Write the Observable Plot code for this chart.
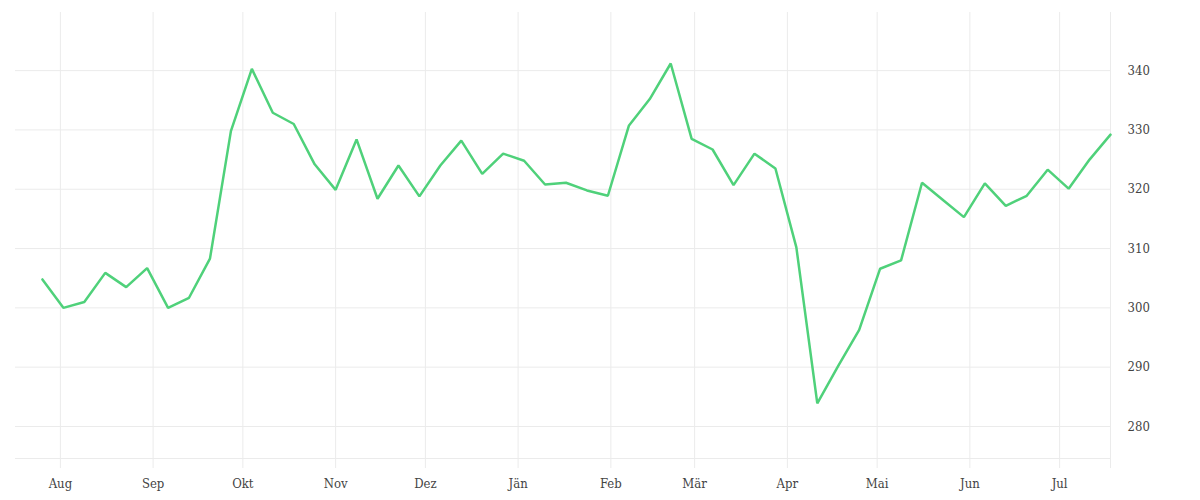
<!DOCTYPE html>
<html><head><meta charset="utf-8">
<script src="https://cdn.jsdelivr.net/npm/d3@7"></script>
<script src="https://cdn.jsdelivr.net/npm/@observablehq/plot@0.6"></script>
<style>body{margin:0;background:#fff;} #chart svg{display:block;}</style>
</head><body><div id="chart"></div>
<script>
const dates = [
  "2022-07-26","2022-08-02","2022-08-09","2022-08-16","2022-08-23","2022-08-30",
  "2022-09-06","2022-09-13","2022-09-20","2022-09-27","2022-10-04","2022-10-11",
  "2022-10-18","2022-10-25","2022-11-01","2022-11-08","2022-11-15","2022-11-22",
  "2022-11-29","2022-12-06","2022-12-13","2022-12-20","2022-12-27","2023-01-03",
  "2023-01-10","2023-01-17","2023-01-24","2023-01-31","2023-02-07","2023-02-14",
  "2023-02-21","2023-02-28","2023-03-07","2023-03-14","2023-03-21","2023-03-28",
  "2023-04-04","2023-04-11","2023-04-18","2023-04-25","2023-05-02","2023-05-09",
  "2023-05-16","2023-05-23","2023-05-30","2023-06-06","2023-06-13","2023-06-20",
  "2023-06-27","2023-07-04","2023-07-11","2023-07-18"
];
const values = [
  304.8, 300.0, 301.0, 305.9, 303.5, 306.7,
  300.0, 301.7, 308.3, 329.8, 340.3, 332.9,
  331.0, 324.2, 319.9, 328.4, 318.4, 324.0,
  318.8, 324.0, 328.2, 322.6, 326.0, 324.8,
  320.8, 321.1, 319.8, 318.9, 330.7, 335.2,
  341.2, 328.5, 326.7, 320.7, 326.0, 323.5,
  310.2, 283.9, 290.2, 296.3, 306.6, 308.0,
  321.1, 318.2, 315.3, 321.0, 317.2, 318.9,
  323.3, 320.1, 325.0, 329.2
];
const monthTicks = [
  "2022-08-01","2022-09-01","2022-10-01","2022-11-01","2022-12-01","2023-01-01",
  "2023-02-01","2023-03-01","2023-04-01","2023-05-01","2023-06-01","2023-07-01"
];
const monthNames = ["Jän","Feb","Mär","Apr","Mai","Jun","Jul","Aug","Sep","Okt","Nov","Dez"];
const yTicks = [280, 290, 300, 310, 320, 330, 340];
const xDomain = ["2022-07-17", "2023-07-18"];
const yDomain = [274.6, 349.8];

const parse = d3.utcParse("%Y-%m-%d");
const data = dates.map((d, i) => ({date: parse(d), value: values[i]}));
const tickDates = monthTicks.map(parse);
const xDom = xDomain.map(parse);

const gridColor = "#ebebeb";
const chart = Plot.plot({
  width: 1200,
  height: 500,
  marginLeft: 15,
  marginRight: 90,
  marginTop: 12,
  marginBottom: 42,
  style: {fontFamily: "'DejaVu Serif Condensed', 'DejaVu Serif', serif", fontSize: "13px", color: "#444", background: "#fff"},
  x: {type: "utc", domain: xDom},
  y: {domain: yDomain},
  marks: [
    Plot.ruleY(yTicks, {stroke: gridColor, strokeWidth: 1}),
    Plot.ruleY([yDomain[0]], {stroke: gridColor, strokeWidth: 1}),
    Plot.ruleX(tickDates, {stroke: gridColor, strokeWidth: 1, insetBottom: -10}),
    Plot.ruleX([xDom[1]], {stroke: gridColor, strokeWidth: 1, insetBottom: -10}),
    Plot.axisX(tickDates, {tickSize: 0, tickPadding: 20, label: null, tickFormat: d => monthNames[d.getUTCMonth()]}),
    Plot.axisY(yTicks, {anchor: "right", tickSize: 0, tickPadding: 17, textAnchor: "start", label: null}),
    Plot.line(data, {x: "date", y: "value", stroke: "#4fd17a", strokeWidth: 2.5, strokeLinejoin: "miter"})
  ]
});
document.getElementById("chart").appendChild(chart);
</script>
</body></html>
